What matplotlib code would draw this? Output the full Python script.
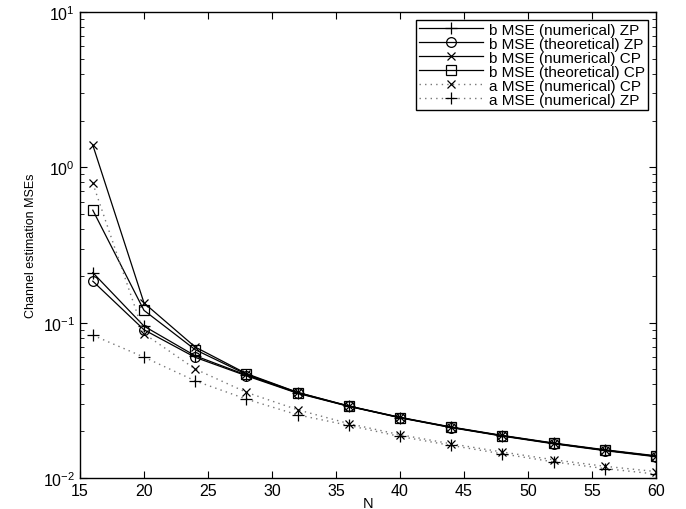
import matplotlib
matplotlib.use("Agg")
import matplotlib.pyplot as plt
from matplotlib.ticker import LogLocator, NullFormatter

plt.rcParams['font.family'] = ['Liberation Sans', 'DejaVu Sans']
plt.rcParams['mathtext.fontset'] = 'custom'
plt.rcParams['mathtext.rm'] = 'Liberation Sans'
plt.rcParams['mathtext.it'] = 'Liberation Sans:italic'

N = [16, 20, 24, 28, 32, 36, 40, 44, 48, 52, 56, 60]
b_num_zp = [0.210, 0.095, 0.0612, 0.0460, 0.0353, 0.0290, 0.0245, 0.0212, 0.0187, 0.0167, 0.0151, 0.0138]
b_theo_zp = [0.185, 0.090, 0.0598, 0.0455, 0.0351, 0.0289, 0.0244, 0.0211, 0.0186, 0.0166, 0.0150, 0.0137]
b_num_cp = [1.39, 0.134, 0.0697, 0.0470, 0.0356, 0.0291, 0.0246, 0.0213, 0.0188, 0.0168, 0.0152, 0.0139]
b_theo_cp = [0.53, 0.120, 0.0670, 0.0465, 0.0355, 0.0290, 0.0245, 0.0212, 0.0187, 0.0167, 0.0151, 0.0138]
a_num_cp = [0.79, 0.085, 0.0503, 0.0356, 0.0275, 0.0224, 0.0190, 0.0166, 0.0147, 0.0131, 0.0119, 0.0110]
a_num_zp = [0.083, 0.060, 0.0422, 0.0322, 0.0255, 0.0218, 0.0185, 0.0162, 0.0143, 0.0127, 0.0115, 0.0106]
labels = ['b MSE (numerical) ZP', 'b MSE (theoretical) ZP', 'b MSE (numerical) CP',
          'b MSE (theoretical) CP', 'a MSE (numerical) CP', 'a MSE (numerical) ZP']

fig = plt.figure(figsize=(6.86, 5.10), dpi=100)
ax = fig.add_axes([80/686, 31/510, 576/686, 466/510])

lw = 0.9
dot = (0, (1, 3))
ax.plot(N, b_num_zp, color='black', lw=lw, marker='+', ms=8, mew=0.9, label=labels[0])
ax.plot(N, b_theo_zp, color='black', lw=lw, marker='o', ms=7, mfc='none', mew=0.9, label=labels[1])
ax.plot(N, b_num_cp, color='black', lw=lw, marker='x', ms=6, mew=0.9, label=labels[2])
ax.plot(N, b_theo_cp, color='black', lw=lw, marker='s', ms=6.5, mfc='none', mew=0.9, label=labels[3])
ax.plot(N, a_num_cp, color='#777777', ls=dot, lw=1.0, marker='x', ms=6, mec='black', mew=0.9, label=labels[4])
ax.plot(N, a_num_zp, color='#777777', ls=dot, lw=1.0, marker='+', ms=8, mec='black', mew=0.9, label=labels[5])

ax.set_yscale('log')
ax.set_xlim(15, 60)
ax.set_ylim(1e-2, 1e1)
ax.set_xticks(range(15, 61, 5))
ax.yaxis.set_minor_locator(LogLocator(base=10, subs=range(2, 10)))
ax.yaxis.set_minor_formatter(NullFormatter())
ax.tick_params(which='both', direction='in', top=True, right=True, labelsize=11.5)
ax.tick_params(which='major', length=5)
ax.tick_params(which='minor', length=3)
for s in ax.spines.values():
    s.set_linewidth(1.0)

ax.set_xlabel('N', fontsize=10.5, labelpad=-1)
ax.set_ylabel('Channel estimation MSEs', fontsize=9, labelpad=4)

leg = ax.legend(loc='upper right', fontsize=11, frameon=True, fancybox=False,
                edgecolor='black', framealpha=1, borderaxespad=0.5,
                handlelength=4.2, labelspacing=0.0, borderpad=0.2, handletextpad=0.4)
leg.get_frame().set_linewidth(1.0)

fig.savefig('out.png', dpi=100)
